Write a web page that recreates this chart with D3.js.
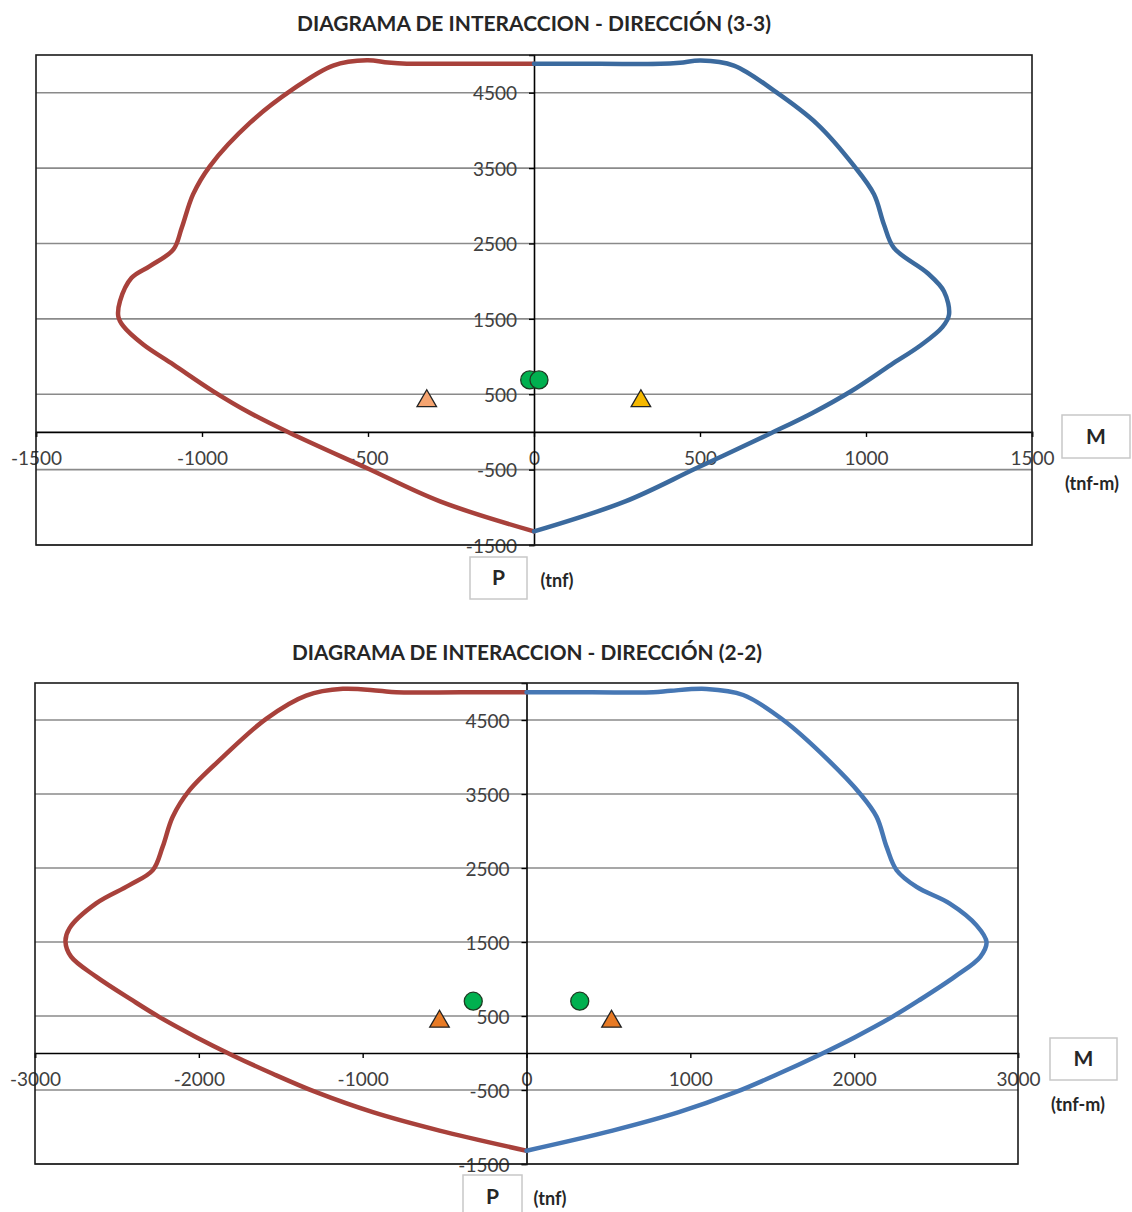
<!DOCTYPE html>
<html>
<head>
<meta charset="utf-8">
<script src="https://cdn.jsdelivr.net/npm/d3@7"></script>
<style>
  html, body { margin: 0; padding: 0; background: #ffffff; }
  svg { display: block; }
  .tick text { font-family: Lato, "Open Sans", sans-serif; font-size: 19px; fill: #404040; }
</style>
</head>
<body>
<svg id="chart" width="1132" height="1212"></svg>
<script>
// ---------- DATA ----------
const pTicks = [-1500, -500, 500, 1500, 2500, 3500, 4500];
const mTicks33 = [-1500, -1000, -500, 0, 500, 1000, 1500];
const mTicks22 = [-3000, -2000, -1000, 0, 1000, 2000, 3000];

const title33 = "DIAGRAMA DE INTERACCION - DIRECCIÓN (3-3)";
const title22 = "DIAGRAMA DE INTERACCION - DIRECCIÓN (2-2)";

// Dirección 3-3 : [M (tnf-m), P (tnf)]
const curve33Neg = [[0,4885],[-200,4885],[-383,4885],[-440,4900],[-503,4930],[-605,4860],[-726,4546],[-855,4102],[-976,3527],[-1027,3151],[-1061,2708],[-1086,2421],[-1157,2199],[-1212,2044],[-1247,1734],[-1252,1530],[-1237,1402],[-1177,1159],[-1086,893],[-966,539],[-855,251],[-735,-14],[-504,-479],[-283,-922],[0,-1320]];
const curve33Pos = [[0,4883],[200,4883],[381,4883],[440,4898],[502,4927],[602,4860],[723,4527],[853,4084],[964,3529],[1024,3152],[1054,2752],[1084,2441],[1185,2108],[1235,1864],[1250,1554],[1230,1390],[1165,1150],[1075,890],[955,540],[840,255],[715,-14],[490,-479],[275,-922],[0,-1320]];
const demand33Circles = [[-13,690],[15,690]];
const demand33TriNeg = [[-323,410]];
const demand33TriPos = [[322,410]];

// Dirección 2-2
const curve22Neg = [[0,4875],[-400,4875],[-796,4875],[-900,4895],[-1121,4921],[-1345,4830],[-1589,4516],[-1854,3998],[-2058,3549],[-2160,3190],[-2221,2785],[-2281,2471],[-2424,2268],[-2627,2022],[-2790,1685],[-2814,1505],[-2780,1302],[-2627,1032],[-2404,710],[-2240,485],[-2016,214],[-1793,-33],[-1549,-281],[-1284,-530],[-938,-800],[-531,-1049],[0,-1320]];
const curve22Pos = [[0,4874],[400,4874],[773,4874],[880,4895],[1099,4919],[1323,4838],[1567,4499],[1831,3981],[2035,3507],[2137,3191],[2198,2785],[2259,2470],[2381,2244],[2584,2019],[2747,1725],[2808,1499],[2770,1300],[2615,1032],[2395,710],[2230,485],[2005,214],[1780,-33],[1538,-281],[1275,-530],[930,-800],[525,-1049],[0,-1320]];
const demand22Circles = [[-325,700],[325,700]];
const demand22TriNeg = [[-531,425]];
const demand22TriPos = [[519,425]];

// ---------- DRAW ----------
const svg = d3.select("#chart");
const FONT = "Lato, 'Open Sans', sans-serif";
const fmt = d => String(d);

function drawChart(cfg) {
  const g = svg.append("g");
  const x = d3.scaleLinear().domain(cfg.mDomain).range([cfg.left, cfg.right]);
  const y = d3.scaleLinear().domain([-1500, 5000]).range([cfg.bottom, cfg.top]);

  // title
  g.append("text")
    .attr("x", cfg.titleX).attr("y", cfg.titleY)
    .attr("text-anchor", "middle")
    .attr("font-family", FONT).attr("font-weight", "bold")
    .attr("font-size", 21).attr("fill", "#262626")
    .attr("textLength", cfg.titleLen).attr("lengthAdjust", "spacingAndGlyphs")
    .text(cfg.title);

  // gridlines
  g.append("g").selectAll("line").data(pTicks).join("line")
    .attr("x1", cfg.left).attr("x2", cfg.right)
    .attr("y1", d => y(d)).attr("y2", d => y(d))
    .attr("stroke", "#8a8a8a").attr("stroke-width", 1.6);

  // x axis (M) at P = 0
  const xAxis = d3.axisBottom(x).tickValues(cfg.mTicks).tickSize(5).tickPadding(15)
    .tickFormat(fmt);
  const gx = g.append("g").attr("transform", `translate(0,${y(0)})`).call(xAxis);
  gx.select(".domain").attr("stroke", "#000").attr("stroke-width", 1.6);
  gx.selectAll(".tick line").attr("stroke", "#000").attr("stroke-width", 1.4);

  // y axis (P) at M = 0
  const yAxis = d3.axisLeft(y).tickValues(pTicks).tickSize(5).tickPadding(12)
    .tickFormat(fmt);
  const gy = g.append("g").attr("transform", `translate(${x(0)},0)`).call(yAxis);
  gy.select(".domain").attr("stroke", "#000").attr("stroke-width", 1.6);
  gy.selectAll(".tick line").attr("stroke", "#000").attr("stroke-width", 1.4);
  gy.selectAll(".tick text").attr("dy", "0.38em");

  // plot border
  g.append("rect")
    .attr("x", cfg.left).attr("y", cfg.top)
    .attr("width", cfg.right - cfg.left).attr("height", cfg.bottom - cfg.top)
    .attr("fill", "none").attr("stroke", "#1a1a1a").attr("stroke-width", 1.6);

  // curves
  const line = d3.line().x(d => x(d[0])).y(d => y(d[1])).curve(d3.curveCatmullRom.alpha(0.5));
  g.append("path").datum(cfg.neg).attr("d", line)
    .attr("fill", "none").attr("stroke", cfg.negColor).attr("stroke-width", 4.5)
    .attr("stroke-linejoin", "round").attr("stroke-linecap", "round");
  g.append("path").datum(cfg.pos).attr("d", line)
    .attr("fill", "none").attr("stroke", cfg.posColor).attr("stroke-width", 4.5)
    .attr("stroke-linejoin", "round").attr("stroke-linecap", "round");

  // markers
  const tri = d3.symbol().type(d3.symbolTriangle).size(165);
  g.append("g").selectAll("path").data(cfg.triNeg).join("path")
    .attr("d", tri).attr("transform", d => `translate(${x(d[0])},${y(d[1])})`)
    .attr("fill", cfg.triNegColor).attr("stroke", "#222").attr("stroke-width", 1.3);
  g.append("g").selectAll("path").data(cfg.triPos).join("path")
    .attr("d", tri).attr("transform", d => `translate(${x(d[0])},${y(d[1])})`)
    .attr("fill", cfg.triPosColor).attr("stroke", "#222").attr("stroke-width", 1.3);
  g.append("g").selectAll("circle").data(cfg.circles).join("circle")
    .attr("cx", d => x(d[0])).attr("cy", d => y(d[1])).attr("r", 9)
    .attr("fill", "#00b04f").attr("stroke", "#1d3a22").attr("stroke-width", 1.3);

  // M label box
  g.append("rect").attr("x", cfg.mBox[0]).attr("y", cfg.mBox[1])
    .attr("width", cfg.mBox[2]).attr("height", cfg.mBox[3])
    .attr("fill", "#fff").attr("stroke", "#c8c8c8").attr("stroke-width", 1.5);
  g.append("text").attr("x", cfg.mBox[0] + cfg.mBox[2] / 2).attr("y", cfg.mBox[1] + cfg.mBox[3] / 2 + 7)
    .attr("text-anchor", "middle").attr("font-family", FONT).attr("font-weight", "bold")
    .attr("font-size", 21).attr("fill", "#262626").text("M");
  g.append("text").attr("x", cfg.mUnit[0]).attr("y", cfg.mUnit[1])
    .attr("text-anchor", "middle").attr("font-family", FONT).attr("font-weight", "bold")
    .attr("font-size", 18).attr("fill", "#262626").text("(tnf-m)");

  // P label box
  g.append("rect").attr("x", cfg.pBox[0]).attr("y", cfg.pBox[1])
    .attr("width", cfg.pBox[2]).attr("height", cfg.pBox[3])
    .attr("fill", "#fff").attr("stroke", "#c8c8c8").attr("stroke-width", 1.5);
  g.append("text").attr("x", cfg.pBox[0] + cfg.pBox[2] / 2).attr("y", cfg.pLetterY)
    .attr("text-anchor", "middle").attr("font-family", FONT).attr("font-weight", "bold")
    .attr("font-size", 21).attr("fill", "#262626").text("P");
  g.append("text").attr("x", cfg.pUnit[0]).attr("y", cfg.pUnit[1])
    .attr("text-anchor", "middle").attr("font-family", FONT).attr("font-weight", "bold")
    .attr("font-size", 18).attr("fill", "#262626").text("(tnf)");
}

drawChart({
  title: title33, titleX: 534, titleY: 31, titleLen: 474,
  mDomain: [-1500, 1500], mTicks: mTicks33,
  left: 36, right: 1032, top: 55, bottom: 545,
  neg: curve33Neg, pos: curve33Pos,
  negColor: "#a8413b", posColor: "#3b6a9e",
  circles: demand33Circles, triNeg: demand33TriNeg, triPos: demand33TriPos,
  triNegColor: "#f5a470", triPosColor: "#f5b800",
  mBox: [1062, 415, 68, 43], mUnit: [1092, 490],
  pBox: [470, 557, 57, 42], pLetterY: 585, pUnit: [557, 587]
});

drawChart({
  title: title22, titleX: 527, titleY: 660, titleLen: 470,
  mDomain: [-3000, 3000], mTicks: mTicks22,
  left: 35, right: 1018, top: 683, bottom: 1164,
  neg: curve22Neg, pos: curve22Pos,
  negColor: "#a8413b", posColor: "#4677b4",
  circles: demand22Circles, triNeg: demand22TriNeg, triPos: demand22TriPos,
  triNegColor: "#e77a25", triPosColor: "#e77a25",
  mBox: [1050, 1038, 67, 42], mUnit: [1078, 1111],
  pBox: [463, 1175, 59, 42], pLetterY: 1204, pUnit: [550, 1205]
});
</script>
</body>
</html>
